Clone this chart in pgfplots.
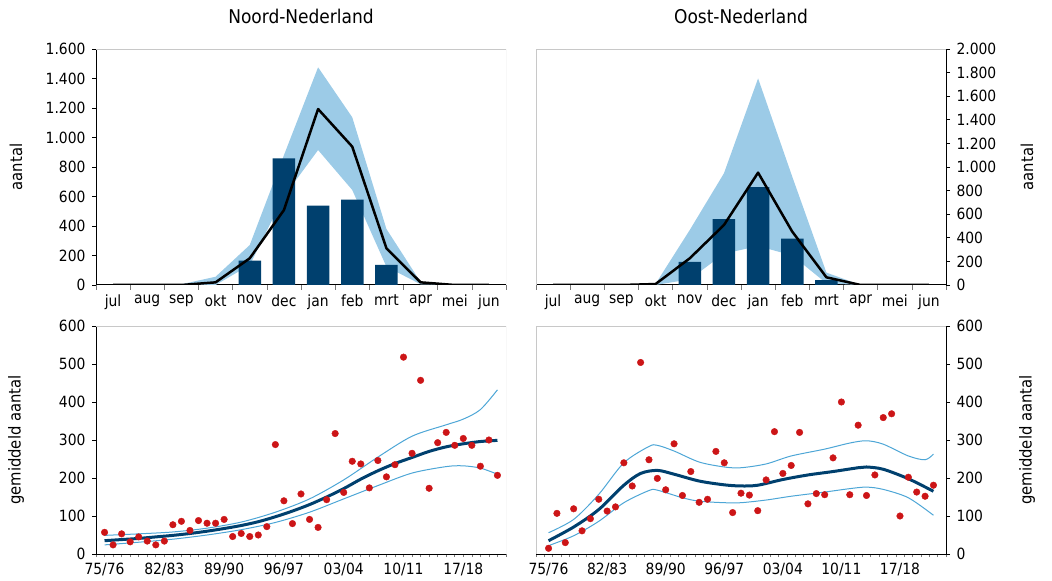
\documentclass[border=0pt]{standalone}
\usepackage{pgfplots}
\pgfplotsset{compat=1.18}
\usepackage{fontspec}
\setmainfont{DejaVu Sans Condensed}
\definecolor{dkblue}{HTML}{00406E}
\definecolor{bandc}{HTML}{9CCBE7}
\definecolor{thinc}{HTML}{4DA6D6}
\definecolor{dotred}{HTML}{CC1517}
\definecolor{framec}{HTML}{C8C8C8}
\pgfplotsset{
  base/.style={scale only axis, anchor=south west,
    axis line style={black, line width=1bp},
    tick align=outside, major tick length=4bp, minor tick length=5bp,
    tick style={black, line width=0.6bp},
    major x tick style={draw=none},
    minor x tick style={framec!60!black, line width=0.6bp},
    ticklabel style={font=\fontsize{15.5}{17}\selectfont},
    xticklabel style={yshift=-2bp},
    label style={font=\fontsize{16.5}{18}\selectfont},
    title style={at={(axis description cs:0.5,1)}, anchor=base, yshift=20bp, font=\fontsize{19}{22}\selectfont},
    /pgf/number format/assume math mode=true,
    /pgf/number format/1000 sep={.},
    axis x line*=bottom},
  leftax/.style={axis y line*=left, yticklabel style={xshift=-3bp},
    ylabel style={at={([xshift=-80bp]axis description cs:0,0.5)}, anchor=center}},
  rightax/.style={axis y line*=right, yticklabel style={xshift=3bp},
    ylabel style={at={([xshift=81bp]axis description cs:1,0.5)}, anchor=center}},
  topax/.style={width=410bp, height=236bp, xmin=-0.5, xmax=11.5, ymin=0,
    xtick={0,...,11}, xticklabels={jul,aug,sep,okt,nov,dec,jan,feb,mrt,apr,mei,jun},
    minor xtick={-0.5,0.5,...,11.5}, ylabel={aantal}},
  botax/.style={width=410bp, height=228bp, ymin=0, ymax=600, ytick={0,100,...,600},
    xtick={0,7,...,42}, xticklabels={75/76,82/83,89/90,96/97,03/04,10/11,17/18},
    ylabel={gemiddeld aantal}, minor tick length=3bp},
}
\begin{document}
\begin{tikzpicture}
\useasboundingbox (0,0) rectangle (1052bp,581bp);
% ---------- top left
\begin{axis}[base, leftax, topax, at={(96bp,296bp)}, ymax=1600, ytick={0,200,...,1600},
  title={Noord-Nederland}]
\addplot[fill=bandc, draw=none] coordinates {(0,0)(1,0)(2,5)(3,56)(4,271)(5,880)(6,1476)(7,1137)(8,380)(9,20)(10,0)(11,0)
  (11,0)(10,0)(9,5)(8,124)(7,644)(6,915)(5,600)(4,135)(3,0)(2,0)(1,0)(0,0)} -- cycle;
\addplot[ybar, bar width=22.5bp, fill=dkblue, draw=none] coordinates {(4,165)(5,859)(6,538)(7,579)(8,136)};
\addplot[black, line width=2.5bp, line join=round] coordinates {(0,0)(1,0)(2,0)(3,18)(4,181)(5,508)(6,1193)(7,938)(8,249)(9,18)(10,0)(11,0)};
\draw[framec, line width=0.8bp] (rel axis cs:0,1) -- (rel axis cs:1,1) -- (rel axis cs:1,0);
\end{axis}
% ---------- top right
\begin{axis}[base, rightax, topax, at={(536bp,296bp)}, ymax=2000, ytick={0,200,...,2000},
  title={Oost-Nederland}]
\addplot[fill=bandc, draw=none] coordinates {(0,0)(1,0)(2,0)(3,10)(4,466)(5,946)(6,1751)(7,918)(8,105)(9,0)(10,0)(11,0)
  (11,0)(10,0)(9,0)(8,14)(7,250)(6,330)(5,265)(4,48)(3,0)(2,0)(1,0)(0,0)} -- cycle;
\addplot[ybar, bar width=22.5bp, fill=dkblue, draw=none] coordinates {(4,195)(5,559)(6,830)(7,393)(8,42)};
\addplot[black, line width=2.5bp, line join=round] coordinates {(0,0)(1,0)(2,0)(3,8)(4,226)(5,508)(6,952)(7,452)(8,65)(9,0)(10,0)(11,0)};
\draw[framec, line width=0.8bp] (rel axis cs:1,1) -- (rel axis cs:0,1) -- (rel axis cs:0,0);
\end{axis}
% ---------- bottom left
\begin{axis}[base, leftax, botax, at={(96bp,27bp)}, xmin=-1, xmax=47, minor xtick={-1,0,...,47}]
\addplot[thinc, line width=1bp, smooth] coordinates {(0,49)(4,53)(8,58)(12,68)(16,84)(20,110)(24,145)(28,195)(32,255)(36,310)(40,340)(42,355)(44,380)(46,432)};
\addplot[thinc, line width=1bp, smooth] coordinates {(0,24)(4,31)(8,39)(12,50)(16,64)(20,83)(24,110)(28,145)(32,180)(36,213)(40,230)(42,232)(44,226)(46,210)};
\addplot[dkblue, line width=3bp, smooth] coordinates {(0,35)(2,38)(4,41)(6,45)(8,49)(10,54)(12,60)(14,67)(16,75)(18,85)(20,98)(22,113)(24,130)(26,150)(28,172)(30,197)(32,219)(34,238)(36,254)(38,270)(40,282)(42,290)(44,296)(46,299)};
\addplot[only marks, mark=*, mark size=3.3bp, dotred, mark options={draw=none, fill=dotred}] coordinates {
(0,57)(1,24)(2,53)(3,32)(4,45)(5,34)(6,24)(7,34)(8,77)(9,86)(10,62)(11,88)(12,81)(13,81)(14,91)(15,46)
(16,54)(17,46)(18,50)(19,72)(20,288)(21,140)(22,80)(23,158)(24,91)(25,70)(26,143)(27,317)(28,162)(29,244)
(30,237)(31,174)(32,246)(33,203)(34,235)(35,518)(36,265)(37,457)(38,173)(39,293)(40,320)(41,286)(42,304)
(43,286)(44,231)(45,300)(46,207)};
\draw[framec, line width=0.8bp] (rel axis cs:0,1) -- (rel axis cs:1,1) -- (rel axis cs:1,0);
\end{axis}
% ---------- bottom right
\begin{axis}[base, rightax, botax, at={(536bp,27bp)}, xmin=-1.5, xmax=47.5, minor xtick={-1.5,-0.5,...,47.5}]
\addplot[thinc, line width=1bp, smooth] coordinates {(0,56)(3,91)(6,157)(9,240)(12,283)(13,286)(15,271)(18,242)(21,229)(23,227)(26,237)(29,258)(33,276)(36,292)(38,298)(40,289)(43,258)(45,248)(46,263)};
\addplot[thinc, line width=1bp, smooth] coordinates {(0,22)(3,48)(6,86)(9,135)(12,167)(13,168)(16,148)(18,139)(21,135)(23,135)(26,142)(29,152)(33,163)(36,172)(38,176)(40,170)(43,148)(46,102)};
\addplot[dkblue, line width=3bp, smooth] coordinates {(0,35)(3,71)(6,117)(9,181)(11,212)(13,220)(15,210)(18,192)(21,182)(23,179)(25,181)(28,196)(31,208)(34,217)(37,227)(38,229)(40,223)(43,198)(46,165)};
\addplot[only marks, mark=*, mark size=3.3bp, dotred, mark options={draw=none, fill=dotred}] coordinates {
(0,15)(1,107)(2,30)(3,119)(4,61)(5,93)(6,144)(7,113)(8,124)(9,240)(10,179)(11,504)(12,248)(13,199)(14,169)
(15,290)(16,154)(17,217)(18,136)(19,144)(20,270)(21,240)(22,109)(23,160)(24,155)(25,114)(26,195)(27,322)
(28,212)(29,233)(30,320)(31,132)(32,159)(33,156)(34,253)(35,400)(36,156)(37,339)(38,154)(39,208)(40,359)
(41,369)(42,100)(43,202)(44,163)(45,152)(46,181)};
\draw[framec, line width=0.8bp] (rel axis cs:1,1) -- (rel axis cs:0,1) -- (rel axis cs:0,0);
\end{axis}
\end{tikzpicture}
\end{document}
